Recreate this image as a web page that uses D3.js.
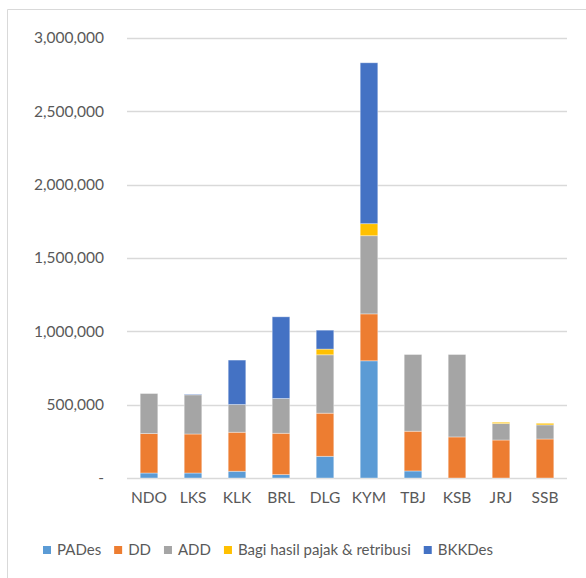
<!DOCTYPE html>
<html>
<head>
<meta charset="utf-8">
<script src="https://cdn.jsdelivr.net/npm/d3@7"></script>
<style>
  html, body { margin: 0; padding: 0; background: #fff; }
  svg { display: block; font-family: Lato, "Open Sans", sans-serif; }
</style>
</head>
<body>
<svg id="chart" width="586" height="578"></svg>
<script>
// Village revenue sources, stacked per village
const categories = ["NDO", "LKS", "KLK", "BRL", "DLG", "KYM", "TBJ", "KSB", "JRJ", "SSB"];
const seriesNames = ["PADes", "DD", "ADD", "Bagi hasil pajak & retribusi", "BKKDes"];
const PADes  = [34000, 34000, 46000, 23000, 148000, 799000, 48000, 0, 0, 0];
const DD     = [269000, 266000, 266000, 282000, 294000, 320000, 271000, 280000, 259000, 266000];
const ADD    = [273000, 267000, 189000, 237000, 398000, 533000, 523000, 562000, 112000, 96000];
const Bagi   = [0, 0, 0, 0, 39000, 82000, 0, 0, 9000, 11000];
const BKKDes = [0, 4000, 303000, 557000, 129000, 1097000, 0, 0, 0, 0];
const yTicks = [0, 500000, 1000000, 1500000, 2000000, 2500000, 3000000];
const colors = ["#5B9BD5", "#ED7D31", "#A5A5A5", "#FFC000", "#4472C4"];

const seriesValues = [PADes, DD, ADD, Bagi, BKKDes];
const rows = categories.map((c, i) => {
  const r = { cat: c };
  seriesNames.forEach((s, k) => { r[s] = seriesValues[k][i]; });
  return r;
});

const svg = d3.select("#chart");
const textColor = "#595959";

// chart area border (top and left edges visible)
svg.append("path")
  .attr("d", "M7.5,578 V9.5 H586")
  .attr("fill", "none")
  .attr("stroke", "#d9d9d9")
  .attr("stroke-width", 1);

const x = d3.scaleBand()
  .domain(categories)
  .range([127, 567])
  .paddingInner(0.6)
  .paddingOuter(0.3);

const y = d3.scaleLinear()
  .domain([0, 3000000])
  .range([478, 38]);

// gridlines
svg.append("g")
  .selectAll("line")
  .data(yTicks)
  .join("line")
  .attr("x1", 127).attr("x2", 567)
  .attr("y1", d => Math.round(y(d)) + 0.5)
  .attr("y2", d => Math.round(y(d)) + 0.5)
  .attr("stroke", "#d9d9d9")
  .attr("stroke-width", 1.5);

// y axis labels
const fmt = d3.format(",");
const yAxis = d3.axisLeft(y)
  .tickValues(yTicks)
  .tickSize(0)
  .tickPadding(0)
  .tickFormat(d => d === 0 ? "-" : fmt(d));
const gy = svg.append("g").attr("transform", "translate(104,0)").call(yAxis);
gy.select(".domain").remove();
gy.selectAll("text")
  .attr("fill", textColor)
  .attr("font-size", 15.5)
  .attr("font-family", "Lato, 'Open Sans', sans-serif");

// stacked bars
const stack = d3.stack().keys(seriesNames);
const layers = stack(rows);

svg.append("g")
  .selectAll("g")
  .data(layers)
  .join("g")
  .attr("fill", (d, i) => colors[i])
  .selectAll("rect")
  .data(d => d)
  .join("rect")
  .attr("x", d => x(d.data.cat))
  .attr("width", x.bandwidth())
  .attr("y", d => y(d[1]))
  .attr("height", d => Math.max(0, y(d[0]) - y(d[1])))
  .attr("stroke", "rgba(255,255,255,0.45)")
  .attr("stroke-width", 0.8);

// x axis labels
const xAxis = d3.axisBottom(x).tickSize(0).tickPadding(0);
const gx = svg.append("g").attr("transform", "translate(0,492)").call(xAxis);
gx.select(".domain").remove();
gx.selectAll("text")
  .attr("fill", textColor)
  .attr("font-size", 15.5)
  .attr("dy", "0.71em")
  .attr("font-family", "Lato, 'Open Sans', sans-serif");

// legend
const legend = svg.append("g").attr("transform", "translate(43,550)");
let lx = 0;
seriesNames.forEach((name, i) => {
  const g = legend.append("g").attr("transform", `translate(${lx},0)`);
  g.append("rect")
    .attr("x", 0).attr("y", -4)
    .attr("width", 8).attr("height", 8)
    .attr("fill", colors[i]);
  const t = g.append("text")
    .attr("x", 14).attr("y", 0)
    .attr("dy", "0.35em")
    .attr("fill", textColor)
    .attr("font-size", 15)
    .text(name);
  const w = t.node().getComputedTextLength();
  lx += 14 + w + 13;
});
</script>
</body>
</html>
